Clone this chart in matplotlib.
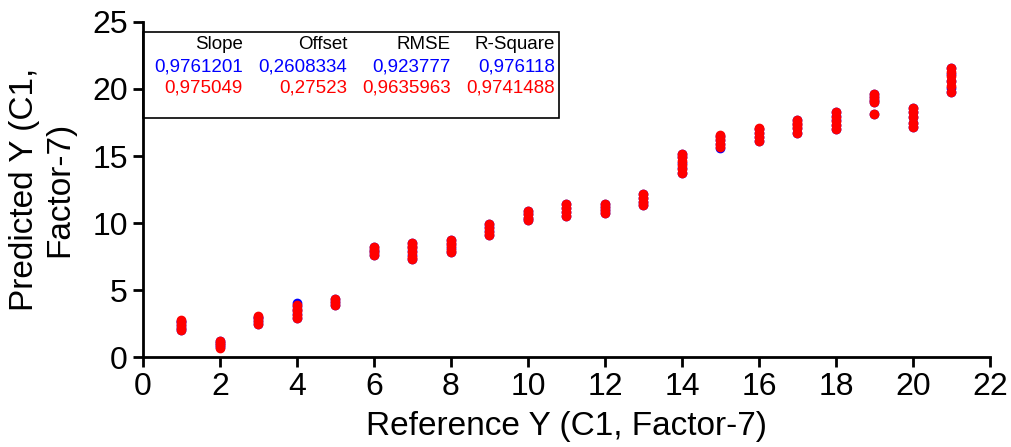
import matplotlib.pyplot as plt

plt.rcParams['font.family'] = ['Liberation Sans', 'DejaVu Sans']

# reference values (x) with predicted values, one list per reference level
ref_levels = list(range(1, 22))

# calibration (blue), mostly hidden below validation points
pred_cal = [
    [2.0, 2.2, 2.4, 2.6, 2.7],
    [0.75, 0.9, 1.05, 1.2],
    [2.5, 2.7, 2.9, 3.0],
    [2.9, 3.2, 3.5, 3.8, 4.0],
    [3.9, 4.1, 4.3],
    [7.6, 7.8, 8.0, 8.2],
    [7.3, 7.6, 7.9, 8.2, 8.5],
    [7.8, 8.1, 8.4, 8.7],
    [9.1, 9.4, 9.7, 9.9],
    [10.2, 10.4, 10.7, 10.9],
    [10.5, 10.8, 11.1, 11.4],
    [10.75, 11.0, 11.2, 11.4],
    [11.35, 11.6, 11.9, 12.2],
    [13.7, 14.1, 14.5, 14.9, 15.15],
    [15.6, 15.9, 16.2, 16.5],
    [16.1, 16.4, 16.7, 17.0],
    [16.7, 17.1, 17.4, 17.7],
    [17.0, 17.3, 17.7, 18.0, 18.3],
    [18.1, 19.0, 19.2, 19.4, 19.6],
    [17.2, 17.5, 17.9, 18.3, 18.6],
    [19.8, 20.1, 20.6, 21.1, 21.6],
]

# validation (red)
pred_val = [
    [2.0, 2.2, 2.4, 2.6, 2.75],
    [0.7, 0.9, 1.05, 1.2],
    [2.5, 2.7, 2.9, 3.05],
    [2.9, 3.1, 3.4, 3.6, 3.85],
    [3.9, 4.1, 4.3],
    [7.6, 7.8, 8.0, 8.2],
    [7.3, 7.5, 7.8, 8.1, 8.3, 8.5],
    [7.8, 8.0, 8.3, 8.5, 8.7],
    [9.1, 9.3, 9.6, 9.9],
    [10.2, 10.4, 10.7, 10.9],
    [10.5, 10.8, 11.1, 11.4],
    [10.75, 11.0, 11.2, 11.4],
    [11.35, 11.6, 11.9, 12.2],
    [13.7, 14.0, 14.3, 14.6, 14.9, 15.15],
    [15.7, 15.9, 16.2, 16.4, 16.6],
    [16.1, 16.4, 16.7, 17.0, 17.1],
    [16.7, 17.1, 17.3, 17.5, 17.7],
    [17.0, 17.3, 17.6, 17.9, 18.3],
    [18.1, 19.0, 19.2, 19.4, 19.6],
    [17.2, 17.5, 17.9, 18.3, 18.6],
    [19.8, 20.2, 20.6, 21.0, 21.3, 21.6],
]

headers = ["Slope", "Offset", "RMSE", "R-Square"]
stats_cal = ["0,9761201", "0,2608334", "0,923777", "0,976118"]
stats_val = ["0,975049", "0,27523", "0,9635963", "0,9741488"]

fig = plt.figure(figsize=(10.11, 4.47), dpi=100)
ax = fig.add_axes([0.1414, 0.2013, 0.8378, 0.7495])

for x, ys in zip(ref_levels, pred_cal):
    ax.scatter([x] * len(ys), ys, s=36, color='blue', zorder=3)
for x, ys in zip(ref_levels, pred_val):
    ax.scatter([x] * len(ys), ys, s=36, color='red', zorder=4)

ax.set_xlim(0, 22)
ax.set_ylim(0, 25)
ax.set_xticks(range(0, 23, 2))
ax.set_yticks(range(0, 26, 5))
ax.spines['top'].set_visible(False)
ax.spines['right'].set_visible(False)
ax.spines['left'].set_linewidth(2)
ax.spines['bottom'].set_linewidth(2)
ax.tick_params(direction='out', length=7, width=2, labelsize=23, pad=4)
ax.set_xlabel("Reference Y (C1, Factor-7)", fontsize=24, labelpad=6)
ax.set_ylabel("Predicted Y (C1,\nFactor-7)", fontsize=24, labelpad=12)

# stats box
box = plt.Rectangle((0, 0.713), 0.491, 0.257, transform=ax.transAxes,
                    fill=False, edgecolor='black', linewidth=1.2, zorder=5, clip_on=False)
ax.add_patch(box)
col_x = [0.1181, 0.2409, 0.3636, 0.4864]
row_y = [0.932, 0.866, 0.804]
for cx, h, c1, c2 in zip(col_x, headers, stats_cal, stats_val):
    ax.text(cx, row_y[0], h, transform=ax.transAxes, ha='right', va='center', fontsize=13.5, color='black')
    ax.text(cx, row_y[1], c1, transform=ax.transAxes, ha='right', va='center', fontsize=13.5, color='blue')
    ax.text(cx, row_y[2], c2, transform=ax.transAxes, ha='right', va='center', fontsize=13.5, color='red')

fig.savefig("out.png", dpi=100)
